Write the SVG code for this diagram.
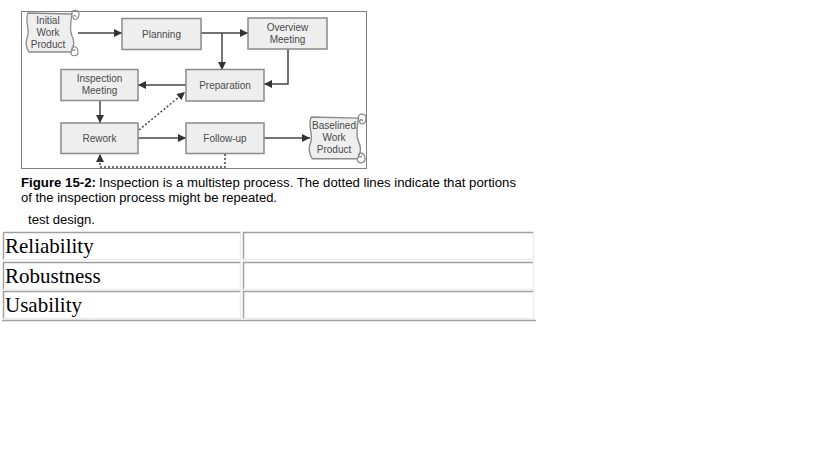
<svg xmlns="http://www.w3.org/2000/svg" width="819" height="460" viewBox="0 0 819 460">
<style>
.box{fill:#eeeeee;stroke:#8a8a8a;stroke-width:1.5}
.scroll{fill:#eeeeee;stroke:#8a8a8a;stroke-width:1.3;stroke-linejoin:round}
.curl{fill:none;stroke:#8a8a8a;stroke-width:1.2}
.lbl{font-family:"Liberation Sans",Arial,sans-serif;font-size:10px;fill:#4a4a4a;text-anchor:middle}
.con{fill:none;stroke:#444;stroke-width:1.5}
.dot{fill:none;stroke:#444;stroke-width:1.5;stroke-dasharray:2 2}
.cap{font-family:"Liberation Sans",Arial,sans-serif;font-size:12px;fill:#000}
.cell{font-family:"Liberation Serif","Times New Roman",serif;font-size:21px;fill:#000}
.dk{stroke:#a0a0a0;stroke-width:1.5;fill:none}
.lt{stroke:#ececec;stroke-width:1.5;fill:none}
</style>
<defs>
<marker id="ah" markerUnits="userSpaceOnUse" markerWidth="9" markerHeight="9" refX="8" refY="4.5" orient="auto">
<path d="M0,0.5 L8,4.5 L0,8.5 Z" fill="#333"/>
</marker>
<g id="scrollShape">
<path class="scroll" d="M3,1 C-1,10 6,18 2,26 C0,32 2,37 4,40 L46,40 C49,34 50,30 47,24 C44,17 46,8 47,2 Z"/>
<path class="curl" d="M47,2 C46,-3 54,-3 54,2 C54,8 48,9 48,5 C48,3 51,3 51,5"/>
<path class="curl" d="M46,40 C45,45 53,45 53,40 C53,34 47,33 47,37 C47,39 50,39 50,37"/>
</g>
</defs>

<rect x="21.5" y="11.5" width="345" height="157" fill="none" stroke="#000" stroke-width="1" stroke-dasharray="1 1"/>

<g id="connectors">
<line class="con" x1="78" y1="33" x2="122" y2="33" marker-end="url(#ah)"/>
<line class="con" x1="201" y1="33" x2="248" y2="33" marker-end="url(#ah)"/>
<line class="con" x1="222" y1="33" x2="222" y2="70" marker-end="url(#ah)"/>
<polyline class="con" points="288,49 288,84 264,84" marker-end="url(#ah)"/>
<line class="con" x1="186" y1="85" x2="138" y2="85" marker-end="url(#ah)"/>
<line class="con" x1="100" y1="100" x2="100" y2="123" marker-end="url(#ah)"/>
<line class="con" x1="138" y1="138" x2="186" y2="138" marker-end="url(#ah)"/>
<line class="con" x1="264" y1="138" x2="310" y2="138" marker-end="url(#ah)"/>
<line class="dot" x1="139" y1="130" x2="185" y2="92" marker-end="url(#ah)"/>
<polyline class="dot" points="225,154 225,167 100,167 100,154" marker-end="url(#ah)"/>
</g>

<g id="initial">
<use href="#scrollShape" transform="translate(25,12)"/>
<text class="lbl" x="48" y="24">Initial</text>
<text class="lbl" x="48" y="36">Work</text>
<text class="lbl" x="48" y="48">Product</text>
</g>
<g id="planning">
<rect class="box" x="122" y="18.5" width="79" height="31"/>
<text class="lbl" x="161.5" y="37.5">Planning</text>
</g>
<g id="overview">
<rect class="box" x="248" y="18" width="79" height="31"/>
<text class="lbl" x="287.5" y="31">Overview</text>
<text class="lbl" x="287.5" y="43">Meeting</text>
</g>
<g id="preparation">
<rect class="box" x="186" y="69.5" width="78" height="31.5"/>
<text class="lbl" x="225" y="88.5">Preparation</text>
</g>
<g id="inspection">
<rect class="box" x="61" y="69.5" width="77" height="31"/>
<text class="lbl" x="99.5" y="82">Inspection</text>
<text class="lbl" x="99.5" y="94">Meeting</text>
</g>
<g id="rework">
<rect class="box" x="61" y="123" width="77" height="30.5"/>
<text class="lbl" x="99.5" y="141.5">Rework</text>
</g>
<g id="followup">
<rect class="box" x="186" y="123" width="78" height="30.5"/>
<text class="lbl" x="225" y="141.5">Follow-up</text>
</g>
<g id="baselined">
<use href="#scrollShape" transform="translate(308,116) scale(1.075,1.07)"/>
<text class="lbl" x="334" y="129">Baselined</text>
<text class="lbl" x="334" y="141">Work</text>
<text class="lbl" x="334" y="153">Product</text>
</g>

<g id="caption">
<text class="cap" x="21" y="187"><tspan font-weight="bold" textLength="75" lengthAdjust="spacingAndGlyphs">Figure 15-2:</tspan><tspan x="99" textLength="417" lengthAdjust="spacingAndGlyphs">Inspection is a multistep process. The dotted lines indicate that portions</tspan></text>
<text class="cap" x="21" y="202" textLength="256" lengthAdjust="spacingAndGlyphs">of the inspection process might be repeated.</text>
<text class="cap" x="28" y="224" textLength="67" lengthAdjust="spacingAndGlyphs">test design.</text>
</g>

<g id="table">
<path class="dk" d="M3.5,259.5 V232.5 H240.5 M3.5,289.5 V262.5 H240.5 M3.5,318.5 V291.5 H240.5"/>
<path class="lt" d="M3.5,259.5 H240.5 V232.5 M3.5,289.5 H240.5 V262.5 M3.5,318.5 H240.5 V291.5"/>
<path class="dk" d="M243.5,259.5 V232.5 H533.5 M243.5,289.5 V262.5 H533.5 M243.5,318.5 V291.5 H533.5"/>
<path class="lt" d="M243.5,259.5 H533.5 V232.5 M243.5,289.5 H533.5 V262.5 M243.5,318.5 H533.5 V291.5"/>
<path class="dk" d="M2,320.5 H536"/>
<text class="cell" x="5" y="253">Reliability</text>
<text class="cell" x="5" y="283">Robustness</text>
<text class="cell" x="5" y="312">Usability</text>
</g>
</svg>
